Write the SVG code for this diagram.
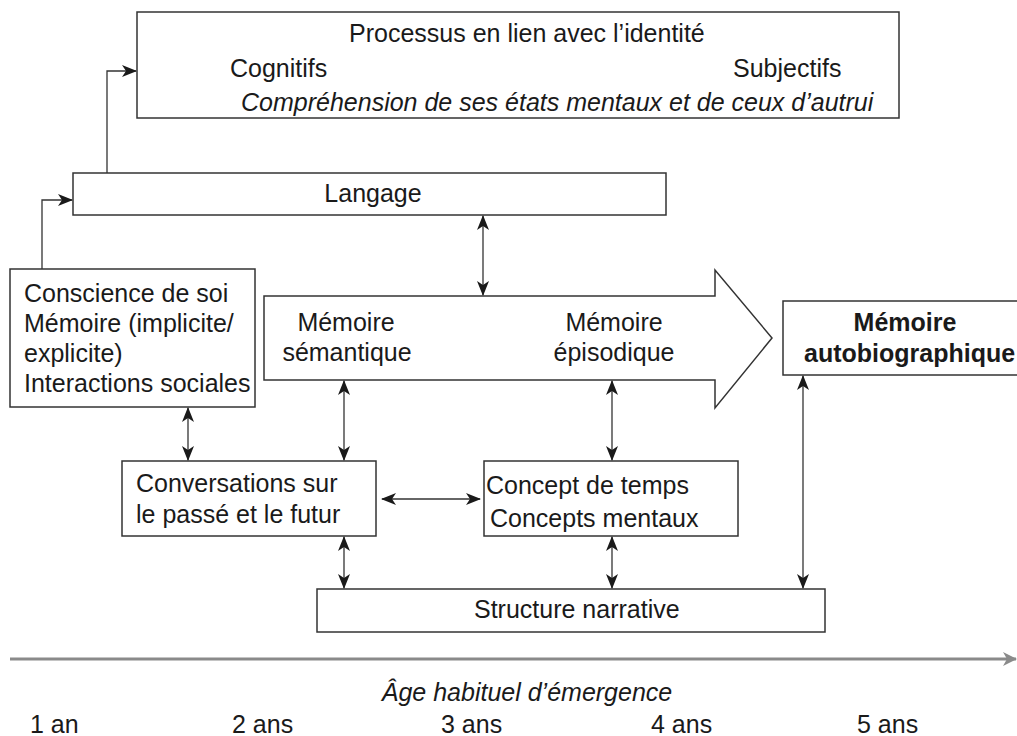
<svg xmlns="http://www.w3.org/2000/svg" width="1017" height="736" viewBox="0 0 1017 736">
<style>
  text { font-family: "Liberation Sans", Arial, sans-serif; font-size: 25px; fill: #1a1a1a; }
  .it { font-style: italic; }
  .b { font-weight: bold; }
  .mid { text-anchor: middle; }
  .box { fill: #ffffff; stroke: #333333; stroke-width: 1.5; }
  .con { fill: none; stroke: #333333; stroke-width: 1.3; }
</style>
<defs>
  <marker id="ah" viewBox="0 0 15 12" refX="14" refY="6" markerWidth="15" markerHeight="12" markerUnits="userSpaceOnUse" orient="auto-start-reverse">
    <path d="M0,0 L15,6 L0,12 L4,6 z" fill="#1a1a1a"/>
  </marker>
  <marker id="gah" viewBox="0 0 14 14" refX="13" refY="7" markerWidth="14" markerHeight="14" markerUnits="userSpaceOnUse" orient="auto">
    <path d="M0,0 L14,7 L0,14 L4,7 z" fill="#8a8a8a"/>
  </marker>
</defs>
<rect width="1017" height="736" fill="#ffffff"/>

<g id="identite">
  <rect class="box" x="137" y="12" width="762" height="106"/>
  <text x="349" y="42">Processus en lien avec l’identité</text>
  <text x="230" y="77">Cognitifs</text>
  <text x="733" y="77">Subjectifs</text>
  <text class="it" x="241" y="111">Compréhension de ses états mentaux et de ceux d’autrui</text>
</g>

<g id="langage">
  <rect class="box" x="73" y="173" width="593" height="42"/>
  <text class="mid" x="373" y="202">Langage</text>
</g>

<g id="conscience">
  <rect class="box" x="10" y="269" width="245" height="138"/>
  <text x="24" y="302">Conscience de soi</text>
  <text x="24" y="332">Mémoire (implicite/</text>
  <text x="24" y="362">explicite)</text>
  <text x="24" y="392">Interactions sociales</text>
</g>

<g id="memoires">
  <polygon class="box" points="264,296 715,296 715,270 772,338 715,408 715,380 264,380"/>
  <text class="mid" x="346" y="331">Mémoire</text>
  <text class="mid" x="347" y="361">sémantique</text>
  <text class="mid" x="614" y="331">Mémoire</text>
  <text class="mid" x="614" y="361">épisodique</text>
</g>

<g id="autobio">
  <rect class="box" x="783" y="301" width="260" height="74"/>
  <text class="b mid" x="905" y="331">Mémoire</text>
  <text class="b" x="804" y="362">autobiographique</text>
</g>

<g id="conversations">
  <rect class="box" x="122" y="461" width="254" height="75"/>
  <text x="136" y="492">Conversations sur</text>
  <text x="136" y="523">le passé et le futur</text>
</g>

<g id="concepts">
  <rect class="box" x="484" y="461" width="254" height="75"/>
  <text x="486" y="494">Concept de temps</text>
  <text x="490" y="527">Concepts mentaux</text>
</g>

<g id="structure">
  <rect class="box" x="317" y="589" width="508" height="43"/>
  <text x="474" y="618">Structure narrative</text>
</g>

<g id="connectors">
  <polyline class="con" points="107,173 107,71 136,71" marker-end="url(#ah)"/>
  <polyline class="con" points="42,269 42,200 72,200" marker-end="url(#ah)"/>
  <line class="con" x1="483" y1="216" x2="483" y2="295" marker-start="url(#ah)" marker-end="url(#ah)"/>
  <line class="con" x1="188" y1="408" x2="188" y2="460" marker-start="url(#ah)" marker-end="url(#ah)"/>
  <line class="con" x1="344" y1="381" x2="344" y2="460" marker-start="url(#ah)" marker-end="url(#ah)"/>
  <line class="con" x1="612" y1="381" x2="612" y2="460" marker-start="url(#ah)" marker-end="url(#ah)"/>
  <line class="con" x1="803" y1="376" x2="803" y2="588" marker-start="url(#ah)" marker-end="url(#ah)"/>
  <line class="con" x1="382" y1="499" x2="480" y2="499" marker-start="url(#ah)" marker-end="url(#ah)"/>
  <line class="con" x1="344" y1="537" x2="344" y2="588" marker-start="url(#ah)" marker-end="url(#ah)"/>
  <line class="con" x1="612" y1="537" x2="612" y2="588" marker-start="url(#ah)" marker-end="url(#ah)"/>
</g>

<g id="axe">
  <line x1="10" y1="659" x2="1016" y2="659" stroke="#8a8a8a" stroke-width="3" marker-end="url(#gah)"/>
  <text class="it mid" x="527" y="701">Âge habituel d’émergence</text>
  <text x="30" y="733">1 an</text>
  <text x="232" y="733">2 ans</text>
  <text x="441" y="733">3 ans</text>
  <text x="651" y="733">4 ans</text>
  <text x="857" y="733">5 ans</text>
</g>
</svg>
